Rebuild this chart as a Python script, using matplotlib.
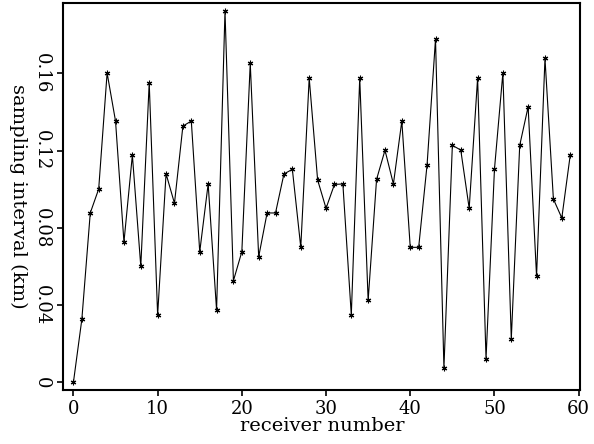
import matplotlib
matplotlib.use("Agg")
import matplotlib.pyplot as plt
import numpy as np

# sampling interval per receiver
receivers = np.arange(60)
interval_km = [
    0.0000, 0.0326, 0.0877, 0.1001, 0.1602, 0.1353, 0.0726, 0.1177, 0.0600, 0.1552,
    0.0348, 0.1080, 0.0927, 0.1327, 0.1353, 0.0676, 0.1027, 0.0374, 0.1923, 0.0526,
    0.0676, 0.1652, 0.0650, 0.0877, 0.0877, 0.1079, 0.1103, 0.0699, 0.1576, 0.1048,
    0.0901, 0.1025, 0.1027, 0.0348, 0.1576, 0.0424, 0.1051, 0.1202, 0.1027, 0.1353,
    0.0699, 0.0699, 0.1127, 0.1778, 0.0074, 0.1227, 0.1203, 0.0901, 0.1576, 0.0122,
    0.1103, 0.1602, 0.0224, 0.1227, 0.1427, 0.0549, 0.1678, 0.0949, 0.0851, 0.1177,
]
xticks = [0, 10, 20, 30, 40, 50, 60]
yticks = [0, 0.04, 0.08, 0.12, 0.16]
ytick_labels = ["0", "0.04", "0.08", "0.12", "0.16"]

plt.rcParams["font.family"] = "DejaVu Serif"

fig = plt.figure(figsize=(5.94, 4.44), dpi=100)
ax = fig.add_axes([0.1066, 0.1216, 0.8704, 0.871])

ax.plot(receivers, interval_km, color="black", linewidth=0.8,
        marker=(6, 2, 0), markersize=4, markeredgewidth=0.8)

ax.set_xlim(-1.2, 60.2)
ax.set_ylim(-0.004, 0.1963)
ax.set_xticks(xticks)
ax.set_yticks(yticks)
ax.set_yticklabels(ytick_labels, rotation=270, va="center")
ax.tick_params(direction="out", length=4, width=1.2, labelsize=13)
ax.tick_params(axis="y", pad=5)

for side in ["left", "bottom", "right", "top"]:
    ax.spines[side].set_linewidth(1.5)

ax.set_xlabel("receiver number", fontsize=14, labelpad=-1)
ax.set_ylabel("sampling interval (km)", fontsize=14, rotation=270,
              va="center", ha="center")
ax.yaxis.set_label_coords(-0.088, 0.5)

fig.savefig("out.png", dpi=100)
